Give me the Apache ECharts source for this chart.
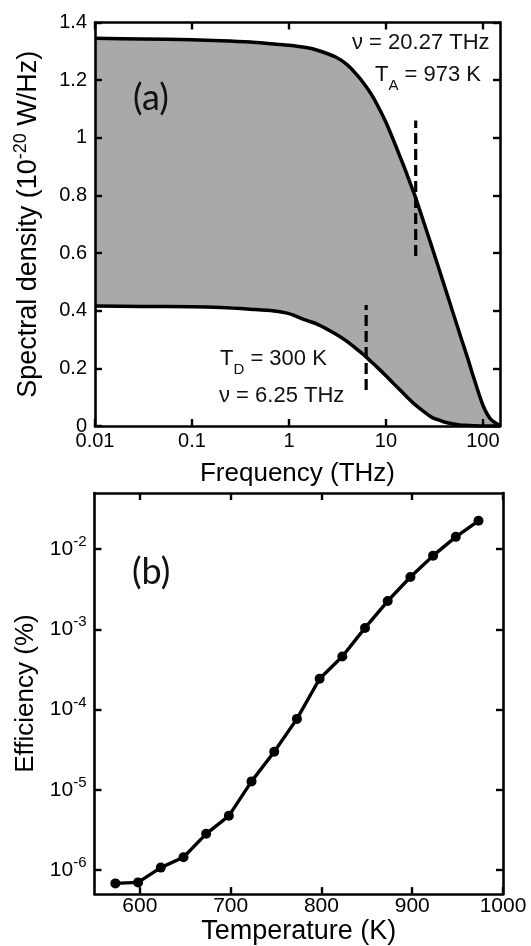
<!DOCTYPE html>
<html><head><meta charset="utf-8">
<script src="https://cdn.jsdelivr.net/npm/echarts@6/dist/echarts.min.js"></script>
<style>html,body{margin:0;padding:0;background:#fff;} #c{width:531px;height:946px;}</style>
</head><body><div id="c"></div>
<script>
// ---- panel (a): spectral density vs frequency ----
const freqTHz = [0.01, 0.03, 0.1, 0.2, 0.4, 0.7, 1, 1.5, 2, 3, 4, 5, 6, 7, 8, 10, 12, 14, 16, 20, 25, 30, 35, 40, 50, 60, 70, 80, 100, 120, 150];
const densityHot = [1.345, 1.343, 1.340, 1.337, 1.332, 1.325, 1.321, 1.313, 1.303, 1.281, 1.253, 1.219, 1.186, 1.153, 1.119, 1.054, 0.990, 0.934, 0.884, 0.797, 0.699, 0.618, 0.548, 0.487, 0.385, 0.302, 0.233, 0.170, 0.072, 0.024, 0.002];
const densityCold = [0.416, 0.415, 0.414, 0.411, 0.405, 0.399, 0.390, 0.367, 0.352, 0.320, 0.293, 0.267, 0.245, 0.224, 0.206, 0.174, 0.147, 0.125, 0.105, 0.074, 0.048, 0.029, 0.021, 0.014, 0.007, 0.003, 0.002, 0.001, 0, 0, 0];
const freqTicks = [0.01, 0.1, 1, 10, 100];
const freqTickLabels = ['0.01', '0.1', '1', '10', '100'];
const markerFreq = [20.27, 6.25];
const markerLow = [0.59, 0.125];
const markerHigh = [1.06, 0.42];

// ---- panel (b): efficiency vs temperature ----
const tempK = [573, 598, 623, 648, 673, 698, 723, 748, 773, 798, 823, 848, 873, 898, 923, 948, 973];
const efficiency = [6.8e-7, 7.0e-7, 1.07e-6, 1.44e-6, 2.82e-6, 4.73e-6, 1.27e-5, 2.98e-5, 7.64e-5, 2.42e-4, 4.58e-4, 1.04e-3, 2.25e-3, 4.49e-3, 8.28e-3, 1.42e-2, 2.25e-2];
const tempTicks = [600, 700, 800, 900, 1000];
const effTicks = [1e-6, 1e-5, 1e-4, 1e-3, 1e-2];
const effTickExp = ['-6', '-5', '-4', '-3', '-2'];

const FONT = '"Liberation Sans", Arial, sans-serif';
const BLACK = '#000';
const chart = echarts.init(document.getElementById('c'), null, {renderer: 'canvas'});

function frameLine() { return {show: true, onZero: false, lineStyle: {color: BLACK, width: 2.6}}; }
function ticks(custom) { const t = {show: true, inside: true, length: 7, lineStyle: {color: BLACK, width: 2.4}}; if (custom) t.customValues = custom; return t; }
const supRich = function (sfs, pad) {
  return {sup: {fontSize: sfs, fontFamily: FONT, color: BLACK, padding: [0, 0, pad, 0]}};
};

const series = [
  // hot curve with grey fill down to zero
  {type: 'line', xAxisIndex: 0, yAxisIndex: 0, smooth: 0.3, showSymbol: false, symbol: 'none',
   data: freqTHz.map((f, i) => [f, densityHot[i]]), lineStyle: {color: BLACK, width: 3.5},
   areaStyle: {color: '#a9a9a9', opacity: 1}, z: 2},
  // cold curve, white below it so only the band between curves stays grey
  {type: 'line', xAxisIndex: 0, yAxisIndex: 0, smooth: 0.3, showSymbol: false, symbol: 'none',
   data: freqTHz.map((f, i) => [f, densityCold[i]]), lineStyle: {color: BLACK, width: 3.5},
   areaStyle: {color: '#ffffff', opacity: 1}, z: 3}
];
markerFreq.forEach((f, i) => {
  series.push({type: 'line', xAxisIndex: 0, yAxisIndex: 0, symbol: 'none', data: [[f, markerLow[i]], [f, markerHigh[i]]],
    lineStyle: {color: BLACK, width: 3.2, type: [11, 5]}, z: 4});
});
series.push({type: 'line', xAxisIndex: 2, yAxisIndex: 2, symbol: 'circle', symbolSize: 10,
  data: tempK.map((t, i) => [t, efficiency[i]]), itemStyle: {color: BLACK}, lineStyle: {color: BLACK, width: 3.4}});

const option = {
  animation: false,
  textStyle: {fontFamily: FONT, color: BLACK},
  grid: [
    {left: 95, right: 31, top: 22.5, height: 403.5, containLabel: false},
    {left: 94.5, right: 28, top: 493, height: 406.5, containLabel: false}
  ],
  xAxis: [
    {gridIndex: 0, type: 'log', logBase: 10, min: 0.01, max: 150, position: 'bottom', z: 10,
     axisLine: frameLine(), axisTick: ticks(freqTicks), splitLine: {show: false}, minorTick: {show: false},
     axisLabel: {customValues: freqTicks, fontSize: 20, margin: 5, color: BLACK, fontFamily: FONT,
       formatter: v => { let k = 0, d = Infinity; freqTicks.forEach((t, j) => { const e = Math.abs(Math.log10(v) - Math.log10(t)); if (e < d) { d = e; k = j; } }); return freqTickLabels[k]; }},
     name: 'Frequency (THz)', nameLocation: 'middle', nameGap: 35, nameTextStyle: {fontSize: 26, color: BLACK, fontFamily: FONT}},
    {gridIndex: 0, type: 'log', logBase: 10, min: 0.01, max: 150, position: 'top', z: 10,
     axisLine: frameLine(), axisTick: ticks(freqTicks), axisLabel: {show: false}, splitLine: {show: false}},
    {gridIndex: 1, type: 'value', min: 550, max: 1000, position: 'bottom', z: 10,
     axisLine: frameLine(), axisTick: ticks(tempTicks), splitLine: {show: false},
     axisLabel: {customValues: tempTicks, fontSize: 21, margin: 2, color: BLACK, fontFamily: FONT, formatter: v => String(v)},
     name: 'Temperature (K)', nameLocation: 'middle', nameGap: 16, nameTextStyle: {fontSize: 27, color: BLACK, fontFamily: FONT}},
    {gridIndex: 1, type: 'value', min: 550, max: 1000, position: 'top', z: 10,
     axisLine: frameLine(), axisTick: ticks(tempTicks), axisLabel: {show: false}, splitLine: {show: false}}
  ],
  yAxis: [
    {gridIndex: 0, type: 'value', min: 0, max: 1.4, interval: 0.2, position: 'left', z: 10,
     axisLine: frameLine(), axisTick: ticks(), splitLine: {show: false},
     axisLabel: {fontSize: 20, margin: 8, color: BLACK, fontFamily: FONT, formatter: v => String(+v.toFixed(1))},
     name: 'Spectral density (10{sup|-20} W/Hz)', nameLocation: 'middle', nameGap: 50,
     nameTextStyle: {fontSize: 27, color: BLACK, fontFamily: FONT, rich: supRich(18, 15)}},
    {gridIndex: 0, type: 'value', min: 0, max: 1.4, interval: 0.2, position: 'right', z: 10,
     axisLine: frameLine(), axisTick: ticks(), axisLabel: {show: false}, splitLine: {show: false}},
    {gridIndex: 1, type: 'log', logBase: 10, min: 5e-7, max: 5e-2, position: 'left', z: 10,
     axisLine: frameLine(), axisTick: ticks(effTicks), splitLine: {show: false}, minorTick: {show: false},
     axisLabel: {customValues: effTicks, fontSize: 21, margin: 8, color: BLACK, fontFamily: FONT,
       formatter: v => { const e = Math.round(Math.log10(v)); const k = effTicks.findIndex(t => Math.round(Math.log10(t)) === e); return '10{sup|' + (k >= 0 ? effTickExp[k] : String(e)) + '}'; },
       rich: supRich(15, 14)},
     name: 'Efficiency (%)', nameLocation: 'middle', nameGap: 52, nameTextStyle: {fontSize: 26, color: BLACK, fontFamily: FONT}},
    {gridIndex: 1, type: 'log', logBase: 10, min: 5e-7, max: 5e-2, position: 'right', z: 10,
     axisLine: frameLine(), axisTick: ticks(effTicks), axisLabel: {show: false}, splitLine: {show: false}}
  ],
  series: series,
  graphic: [
    {type: 'text', x: 133, y: 98, z: 20, style: {text: '(a)', fontSize: 36, fontFamily: 'Lato, "Open Sans", sans-serif', fill: '#111', verticalAlign: 'middle'}},
    {type: 'text', x: 132, y: 572, z: 20, style: {text: '(b)', fontSize: 36, fontFamily: 'Lato, "Open Sans", sans-serif', fill: '#111', verticalAlign: 'middle'}},
    {type: 'text', x: 352, y: 43, z: 20, style: {text: 'ν = 20.27 THz', fontSize: 22, fontFamily: FONT, fill: '#111', verticalAlign: 'middle'}},
    {type: 'text', x: 375, y: 56, z: 20, style: {text: 'T{sub|A} = 973 K', fontSize: 22, fontFamily: FONT, fill: '#111', verticalAlign: 'top',
      rich: {sub: {fontSize: 15, fontFamily: FONT, fill: '#111', padding: [22, 0, 0, 0]}}}},
    {type: 'text', x: 220, y: 340, z: 20, style: {text: 'T{sub|D} = 300 K', fontSize: 22, fontFamily: FONT, fill: '#111', verticalAlign: 'top',
      rich: {sub: {fontSize: 15, fontFamily: FONT, fill: '#111', padding: [22, 0, 0, 0]}}}},
    {type: 'text', x: 219, y: 396, z: 20, style: {text: 'ν = 6.25 THz', fontSize: 22, fontFamily: FONT, fill: '#111', verticalAlign: 'middle'}}
  ]
};
chart.setOption(option);
</script>
</body></html>
